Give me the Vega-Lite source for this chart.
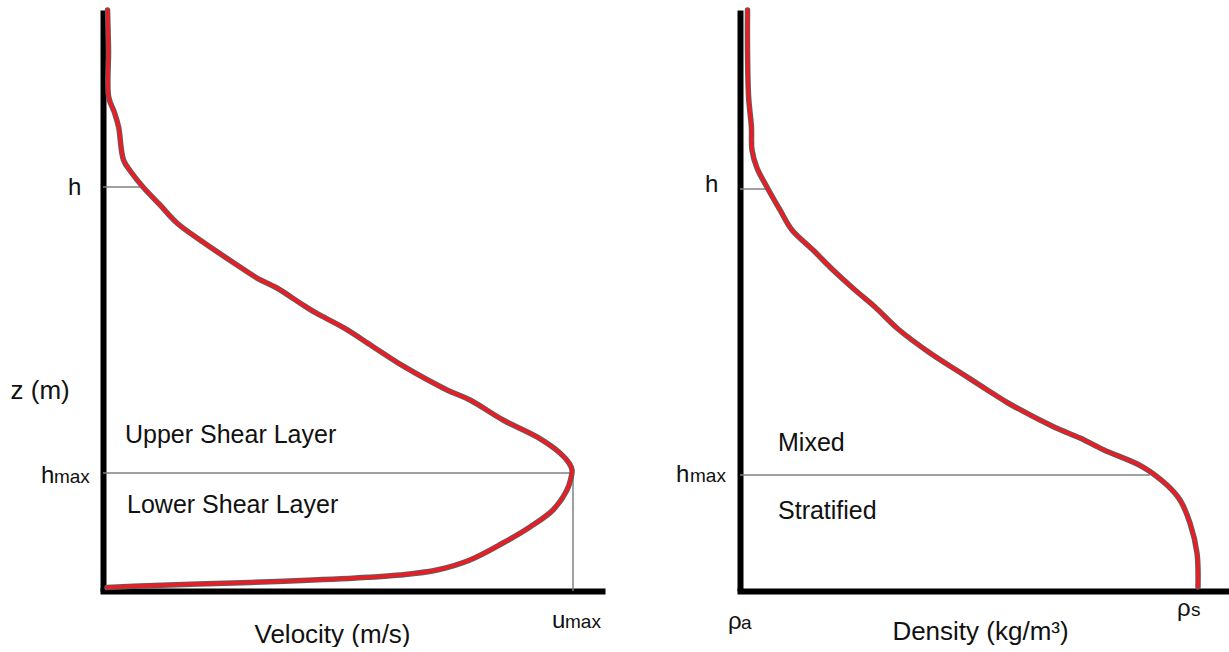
{
  "$schema": "https://vega.github.io/schema/vega-lite/v6.json",
  "autosize": {"type": "pad"},
  "padding": {"left": 10, "top": 7, "right": 0, "bottom": 0},
  "background": "white",
  "bounds": "flush",
  "spacing": 138,
  "config": {
    "view": {"stroke": null},
    "font": "Liberation Sans",
    "axis": {"domain": true, "domainColor": "black", "domainWidth": 6, "ticks": false, "labels": false, "grid": false, "titleFont": "Liberation Sans", "titleFontSize": 26, "titleFontWeight": "normal", "titleColor": "#111111", "titleBaseline": "alphabetic"},
    "axisX": {"domainCap": "square"},
    "axisY": {"domainCap": "butt"}
  },
  "datasets": {
    "velocity": [
      {"i": 1, "x": 0.0096, "z": 10.0},
      {"i": 2, "x": 0.0117, "z": 9.312},
      {"i": 3, "x": 0.0121, "z": 8.503},
      {"i": 4, "x": 0.0247, "z": 8.227},
      {"i": 5, "x": 0.0332, "z": 7.986},
      {"i": 6, "x": 0.0436, "z": 7.418},
      {"i": 7, "x": 0.0596, "z": 7.212},
      {"i": 8, "x": 0.0851, "z": 6.954},
      {"i": 9, "x": 0.1213, "z": 6.644},
      {"i": 10, "x": 0.1574, "z": 6.334},
      {"i": 11, "x": 0.2064, "z": 6.041},
      {"i": 12, "x": 0.2851, "z": 5.611},
      {"i": 13, "x": 0.3277, "z": 5.387},
      {"i": 14, "x": 0.3702, "z": 5.215},
      {"i": 15, "x": 0.4191, "z": 4.957},
      {"i": 16, "x": 0.4532, "z": 4.785},
      {"i": 17, "x": 0.5128, "z": 4.527},
      {"i": 18, "x": 0.5723, "z": 4.217},
      {"i": 19, "x": 0.6383, "z": 3.873},
      {"i": 20, "x": 0.7319, "z": 3.46},
      {"i": 21, "x": 0.7809, "z": 3.287},
      {"i": 22, "x": 0.8511, "z": 2.943},
      {"i": 23, "x": 0.9234, "z": 2.651},
      {"i": 24, "x": 0.9723, "z": 2.375},
      {"i": 25, "x": 0.9915, "z": 2.203},
      {"i": 26, "x": 0.9979, "z": 2.083},
      {"i": 27, "x": 0.9957, "z": 1.945},
      {"i": 28, "x": 0.9872, "z": 1.738},
      {"i": 29, "x": 0.9574, "z": 1.394},
      {"i": 30, "x": 0.9085, "z": 1.102},
      {"i": 31, "x": 0.8511, "z": 0.826},
      {"i": 32, "x": 0.7809, "z": 0.534},
      {"i": 33, "x": 0.7106, "z": 0.361},
      {"i": 34, "x": 0.6319, "z": 0.275},
      {"i": 35, "x": 0.5383, "z": 0.224},
      {"i": 36, "x": 0.3702, "z": 0.164},
      {"i": 37, "x": 0.2021, "z": 0.12},
      {"i": 38, "x": 0.0787, "z": 0.086},
      {"i": 39, "x": 0.0085, "z": 0.06}
    ],
    "density": [
      {"i": 1, "x": 0.0164, "z": 10.0},
      {"i": 2, "x": 0.0164, "z": 9.312},
      {"i": 3, "x": 0.0188, "z": 8.503},
      {"i": 4, "x": 0.0249, "z": 7.986},
      {"i": 5, "x": 0.0262, "z": 7.59},
      {"i": 6, "x": 0.0371, "z": 7.281},
      {"i": 7, "x": 0.0611, "z": 6.919},
      {"i": 8, "x": 0.0873, "z": 6.558},
      {"i": 9, "x": 0.1135, "z": 6.213},
      {"i": 10, "x": 0.1594, "z": 5.869},
      {"i": 11, "x": 0.2031, "z": 5.525},
      {"i": 12, "x": 0.2511, "z": 5.181},
      {"i": 13, "x": 0.2948, "z": 4.888},
      {"i": 14, "x": 0.345, "z": 4.509},
      {"i": 15, "x": 0.4148, "z": 4.096},
      {"i": 16, "x": 0.4825, "z": 3.752},
      {"i": 17, "x": 0.5502, "z": 3.408},
      {"i": 18, "x": 0.5852, "z": 3.236},
      {"i": 19, "x": 0.6856, "z": 2.823},
      {"i": 20, "x": 0.7424, "z": 2.633},
      {"i": 21, "x": 0.7948, "z": 2.427},
      {"i": 22, "x": 0.8799, "z": 2.134},
      {"i": 23, "x": 0.9323, "z": 1.824},
      {"i": 24, "x": 0.9607, "z": 1.566},
      {"i": 25, "x": 0.9825, "z": 1.17},
      {"i": 26, "x": 0.9978, "z": 0.654},
      {"i": 27, "x": 1.0, "z": 0.069}
    ],
    "vGuides": [
      {"x": 0, "x2": 0.085, "z": 6.954, "z2": 6.954},
      {"x": 0, "x2": 0.998, "z": 2.031, "z2": 2.031},
      {"x": 1.0, "x2": 1.0, "z": 0, "z2": 2.031}
    ],
    "dGuides": [
      {"x": 0, "x2": 0.0611, "z": 6.919, "z2": 6.919},
      {"x": 0, "x2": 0.895, "z": 1.997, "z2": 1.997}
    ],
    "vRegions": [
      {"x": 0.0468, "z": 2.547, "t": "Upper Shear Layer"},
      {"x": 0.0511, "z": 1.343, "t": "Lower Shear Layer"}
    ],
    "vSymbols": [
      {"x": -0.0745, "z": 6.816, "t": "h"},
      {"x": -0.1319, "z": 1.859, "t": "h"},
      {"x": 0.9553, "z": -0.637, "t": "u"}
    ],
    "vSubs": [
      {"x": -0.1043, "z": 1.859, "t": "max"},
      {"x": 0.983, "z": -0.637, "t": "max"}
    ],
    "dRegions": [
      {"x": 0.083, "z": 2.41, "t": "Mixed"},
      {"x": 0.083, "z": 1.239, "t": "Stratified"}
    ],
    "dSymbols": [
      {"x": -0.0764, "z": 6.867, "t": "h"},
      {"x": -0.1397, "z": 1.876, "t": "h"},
      {"x": -0.0262, "z": -0.654, "t": "ρ"},
      {"x": 0.9541, "z": -0.43, "t": "ρ"}
    ],
    "dSubs": [
      {"x": -0.1092, "z": 1.876, "t": "max"},
      {"x": 0.0022, "z": -0.654, "t": "a"},
      {"x": 0.9847, "z": -0.43, "t": "s"}
    ]
  },
  "hconcat": [
    {
      "width": 499,
      "height": 581,
      "encoding": {
        "x": {"field": "x", "type": "quantitative", "scale": {"domain": [0, 1.0617], "nice": false, "zero": false},
          "axis": {"title": "Velocity (m/s)", "titleX": 229, "titleY": 51, "titleAlign": "center"}},
        "y": {"field": "z", "type": "quantitative", "scale": {"domain": [0, 10], "nice": false, "zero": false},
          "axis": {"title": "z (m)", "titleAngle": 0, "titleX": -93, "titleY": 388, "titleAlign": "left"}}
      },
      "layer": [
        {"data": {"name": "vGuides"}, "mark": {"type": "rule", "color": "#808080", "strokeWidth": 1.5},
          "encoding": {"x2": {"field": "x2"}, "y2": {"field": "z2"}}},
        {"data": {"name": "velocity"}, "mark": {"type": "line", "interpolate": "catmull-rom", "color": "#5e5e5e", "strokeWidth": 5.5, "strokeCap": "round", "strokeJoin": "round"},
          "encoding": {"order": {"field": "i", "type": "quantitative"}}},
        {"data": {"name": "velocity"}, "mark": {"type": "line", "interpolate": "catmull-rom", "color": "#ed1c24", "strokeWidth": 3.5, "strokeCap": "round", "strokeJoin": "round"},
          "encoding": {"order": {"field": "i", "type": "quantitative"}}},
        {"data": {"name": "vRegions"}, "mark": {"type": "text", "align": "left", "baseline": "alphabetic", "fontSize": 25, "font": "Liberation Sans", "color": "#111111"},
          "encoding": {"text": {"field": "t"}}},
        {"data": {"name": "vSymbols"}, "mark": {"type": "text", "align": "left", "baseline": "alphabetic", "fontSize": 24, "font": "Liberation Sans", "color": "#111111"},
          "encoding": {"text": {"field": "t"}}},
        {"data": {"name": "vSubs"}, "mark": {"type": "text", "align": "left", "baseline": "alphabetic", "fontSize": 19, "font": "Liberation Sans", "color": "#111111"},
          "encoding": {"text": {"field": "t"}}}
      ]
    },
    {
      "width": 489,
      "height": 581,
      "encoding": {
        "x": {"field": "x", "type": "quantitative", "scale": {"domain": [0, 1.0677], "nice": false, "zero": false},
          "axis": {"title": "Density (kg/m³)", "titleX": 240, "titleY": 48, "titleAlign": "center"}},
        "y": {"field": "z", "type": "quantitative", "scale": {"domain": [0, 10], "nice": false, "zero": false},
          "axis": {"title": null}}
      },
      "layer": [
        {"data": {"name": "dGuides"}, "mark": {"type": "rule", "color": "#808080", "strokeWidth": 1.5},
          "encoding": {"x2": {"field": "x2"}, "y2": {"field": "z2"}}},
        {"data": {"name": "density"}, "mark": {"type": "line", "interpolate": "catmull-rom", "color": "#5e5e5e", "strokeWidth": 5.5, "strokeCap": "round", "strokeJoin": "round"},
          "encoding": {"order": {"field": "i", "type": "quantitative"}}},
        {"data": {"name": "density"}, "mark": {"type": "line", "interpolate": "catmull-rom", "color": "#ed1c24", "strokeWidth": 3.5, "strokeCap": "round", "strokeJoin": "round"},
          "encoding": {"order": {"field": "i", "type": "quantitative"}}},
        {"data": {"name": "dRegions"}, "mark": {"type": "text", "align": "left", "baseline": "alphabetic", "fontSize": 25, "font": "Liberation Sans", "color": "#111111"},
          "encoding": {"text": {"field": "t"}}},
        {"data": {"name": "dSymbols"}, "mark": {"type": "text", "align": "left", "baseline": "alphabetic", "fontSize": 24, "font": "Liberation Sans", "color": "#111111"},
          "encoding": {"text": {"field": "t"}}},
        {"data": {"name": "dSubs"}, "mark": {"type": "text", "align": "left", "baseline": "alphabetic", "fontSize": 19, "font": "Liberation Sans", "color": "#111111"},
          "encoding": {"text": {"field": "t"}}}
      ]
    }
  ]
}
